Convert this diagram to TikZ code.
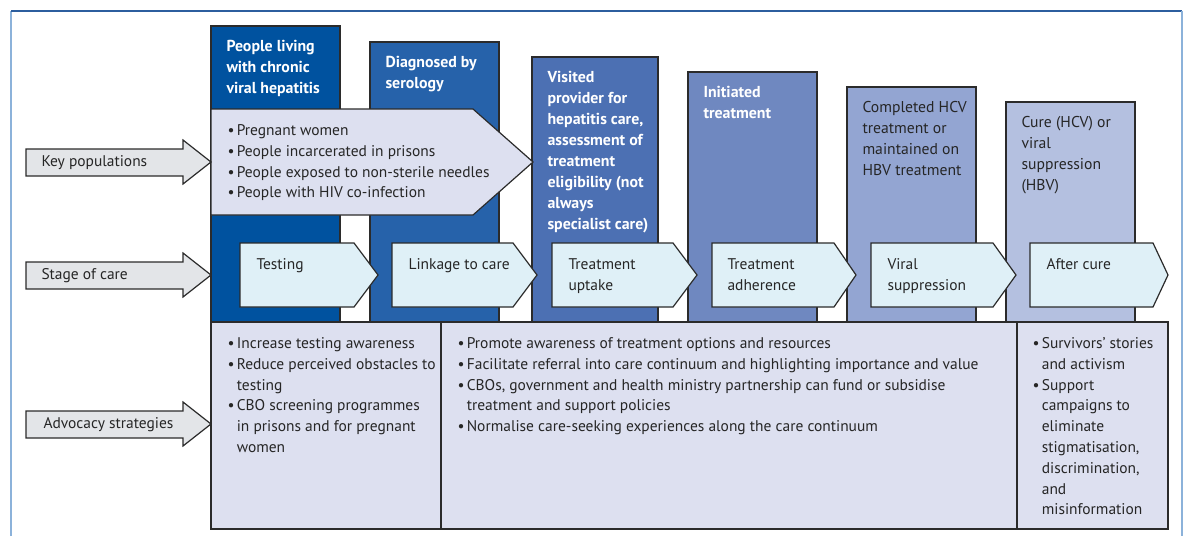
\documentclass[tikz,border=0pt]{standalone}
\usepackage{fontspec}
\setmainfont{PT Sans}

\definecolor{edgeline}{HTML}{2B2B2B}
\definecolor{inktext}{HTML}{262626}
\definecolor{frametop}{HTML}{2C5E9E}
\definecolor{frameside}{HTML}{8CB2DA}
\definecolor{stageA}{HTML}{00529F}
\definecolor{stageB}{HTML}{2662AA}
\definecolor{stageC}{HTML}{4C70B3}
\definecolor{stageD}{HTML}{6F88C0}
\definecolor{stageE}{HTML}{93A5D2}
\definecolor{stageF}{HTML}{B4C0E0}
\definecolor{paleblue}{HTML}{DFF0F7}
\definecolor{palelilac}{HTML}{DDE0F0}
\definecolor{palegrey}{HTML}{E3E5E8}

\newcommand{\itemdot}{\makebox[7pt][l]{\textbullet}}
\newcommand{\itemgap}{\hspace*{7pt}}

\tikzset{every picture/.style={line width=0.75pt}}
\tikzset{
  bar/.style={draw=edgeline, line width=0.9pt},
  panel/.style={draw=edgeline, fill=palelilac, line width=0.9pt},
  stagebox/.style={draw=edgeline, fill=paleblue, line width=0.9pt},
  rowarrow/.style={draw=edgeline, fill=palegrey, line width=0.9pt},
  txt/.style={anchor=north west, inner sep=0pt, align=left, text=inktext,
    font=\fontsize{11.6}{15.6}\selectfont},
  headtxt/.style={txt, font=\bfseries\fontsize{11.9}{15.75}\selectfont, text=white},
  headdark/.style={txt, font=\fontsize{11.75}{15.75}\selectfont},
  rowtxt/.style={anchor=west, inner sep=0pt, text=inktext,
    font=\fontsize{11.6}{15.6}\selectfont}
}

\begin{document}
\begin{tikzpicture}[x=0.75pt,y=0.75pt,yscale=-1,xscale=1]
\useasboundingbox (0,0) rectangle (1184,536);

%Frame
\draw [frameside, line width=1.5pt] (11,536) -- (11,11) ;
\draw [frametop, line width=1pt] (11,11) -- (1182,11) ;
\draw [frameside, line width=1.5pt] (1182,11) -- (1182,536) ;

%Shape: Rectangle (stage columns)
\draw [bar, fill=stageA] (211,26) rectangle (340,322) ;
\draw [bar, fill=stageB] (370,42) rectangle (499,322) ;
\draw [bar, fill=stageC] (532,57) rectangle (658,322) ;
\draw [bar, fill=stageD] (688,72) rectangle (817,322) ;
\draw [bar, fill=stageE] (847,87) rectangle (976,322) ;
\draw [bar, fill=stageF] (1006,102) rectangle (1135,322) ;

%Shape: Pentagon (key populations)
\draw [panel] (211,109) -- (473,109) -- (533,162) -- (473,215) -- (211,215) -- cycle ;

%Shape: Pentagon (stages of care)
\draw [stagebox] (240,243) -- (354,243) -- (378,275) -- (354,307) -- (240,307) -- cycle ;
\draw [stagebox] (392,243) -- (513,243) -- (537,275) -- (513,307) -- (392,307) -- cycle ;
\draw [stagebox] (552,243) -- (673,243) -- (697,275) -- (673,307) -- (552,307) -- cycle ;
\draw [stagebox] (712,243) -- (834,243) -- (856,275) -- (834,307) -- (712,307) -- cycle ;
\draw [stagebox] (871,243) -- (993,243) -- (1016,275) -- (993,307) -- (871,307) -- cycle ;
\draw [stagebox] (1030,243) -- (1153,243) -- (1168,275) -- (1153,307) -- (1030,307) -- cycle ;

%Shape: Rectangle (advocacy panels)
\draw [panel] (211,322) rectangle (441,529) ;
\draw [panel] (441,322) rectangle (1017,529) ;
\draw [panel] (1017,322) rectangle (1168,529) ;

%Shape: Right Arrow (row labels)
\draw [rowarrow] (26,149) -- (183,149) -- (183,140) -- (211,162) -- (183,184) -- (183,176) -- (26,176) -- cycle ;
\draw [rowarrow] (26,262) -- (183,262) -- (183,253) -- (211,275) -- (183,297) -- (183,289) -- (26,289) -- cycle ;
\draw [rowarrow] (26,411) -- (183,411) -- (183,402) -- (211,424) -- (183,446) -- (183,438) -- (26,438) -- cycle ;

% Text Node
\node [rowtxt] (lblkey) at (41,162.5) {Key populations};
% Text Node
\node [rowtxt] (lblstage) at (41,275.5) {Stage of care};
% Text Node
\node [rowtxt] (lbladv) at (43,424.5) {Advocacy strategies};

% Text Node
\node [headtxt] (hdA) at (226,40) {People living\\with chronic\\viral hepatitis};
% Text Node
\node [headtxt] (hdB) at (385,56) {Diagnosed by\\serology};
% Text Node
\node [headtxt] (hdC) at (547,71) {Visited\\provider for\\hepatitis care,\\assessment of\\treatment\\eligibility (not\\always\\specialist care)};
% Text Node
\node [headtxt] (hdD) at (703,86) {Initiated\\treatment};
% Text Node
\node [headdark] (hdE) at (862,101) {Completed HCV\\treatment or\\maintained on\\HBV treatment};
% Text Node
\node [headdark] (hdF) at (1021,116) {Cure (HCV) or\\viral\\suppression\\(HBV)};

% Text Node
\node [txt] (keylist) at (227,124) {\itemdot Pregnant women\\\itemdot People incarcerated in prisons\\\itemdot People exposed to non-sterile needles\\\itemdot People with HIV co-infection};

% Text Node
\node [txt] (stA) at (256,258) {Testing};
% Text Node
\node [txt] (stB) at (408,258) {Linkage to care};
% Text Node
\node [txt] (stC) at (568,258) {Treatment\\uptake};
% Text Node
\node [txt] (stD) at (727,258) {Treatment\\adherence};
% Text Node
\node [txt] (stE) at (887,258) {Viral\\suppression};
% Text Node
\node [txt] (stF) at (1046,258) {After cure};

% Text Node
\node [txt] (advA) at (227,337) {\itemdot Increase testing awareness\\\itemdot Reduce perceived obstacles to\\\itemgap testing\\\itemdot CBO screening programmes\\\itemgap in prisons and for pregnant\\\itemgap women};
% Text Node
\node [txt] (advB) at (457,337) {\itemdot Promote awareness of treatment options and resources\\\itemdot Facilitate referral into care continuum and highlighting importance and value\\\itemdot CBOs, government and health ministry partnership can fund or subsidise\\\itemgap treatment and support policies\\\itemdot Normalise care-seeking experiences along the care continuum};
% Text Node
\node [txt] (advC) at (1032,337) {\itemdot Survivors' stories\\\itemgap and activism\\\itemdot Support\\\itemgap campaigns to\\\itemgap eliminate\\\itemgap stigmatisation,\\\itemgap discrimination,\\\itemgap and\\\itemgap misinformation};

\end{tikzpicture}
\end{document}
